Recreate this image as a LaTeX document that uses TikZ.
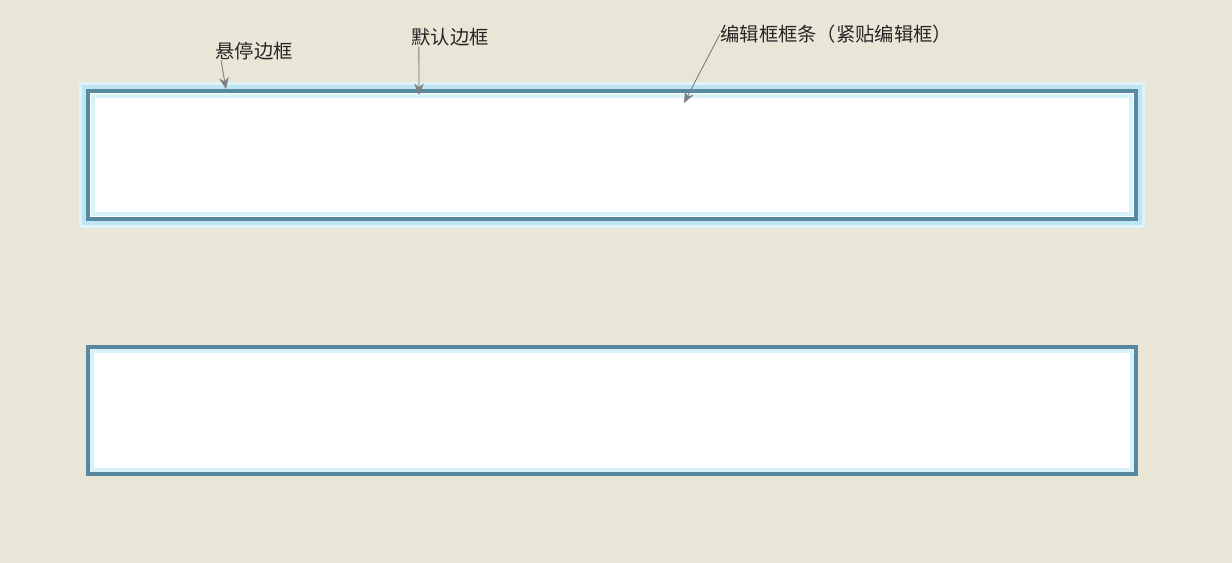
\documentclass[tikz,border=0pt]{standalone}
\usepackage{fontspec}
\newfontfamily\cjk{Noto Sans CJK SC}
\usetikzlibrary{arrows.meta}
\definecolor{bgcol}{RGB}{234,230,215}
\definecolor{glowcol}{RGB}{190,230,242}
\definecolor{edgecol}{RGB}{88,136,160}
\definecolor{innercol}{RGB}{216,242,250}
\definecolor{pointer}{RGB}{128,128,128}
\tikzset{
  lbl/.style={font=\cjk\fontsize{11pt}{13pt}\selectfont, text=black!85, inner sep=0pt, anchor=west},
  tip/.style={draw=pointer, fill=pointer, line width=0.5pt, -{Stealth[length=6.5pt,width=5.5pt]}},
}
\begin{document}
\begin{tikzpicture}[x=0.02cm,y=-0.02cm]
\fill[bgcol] (0,0) rectangle (1232,563);
\useasboundingbox (0,0) rectangle (1232,563);
% hover box (top)
\draw[glowcol!50, line width=9pt] (87,90) rectangle (1137,220);
\draw[glowcol, line width=6pt] (87,90) rectangle (1137,220);
\draw[edgecol, fill=white, line width=2.8pt] (88,91) rectangle (1136,219);
\draw[innercol, line width=2.2pt] (93,96) rectangle (1131,214);
% default box (bottom)
\draw[edgecol, fill=white, line width=2pt] (88,347) rectangle (1136,474);
\draw[innercol, line width=1.8pt] (92,351) rectangle (1132,470);
% labels
\node[lbl] (hover) at (215,51) {悬停边框};
\node[lbl] (normal) at (411,37) {默认边框};
\node[lbl] (editbar) at (720,34) {编辑框框条（紧贴编辑框）};
\coordinate (hoverend) at (226,89);
\coordinate (normalend) at (419,95);
\coordinate (editend) at (684,103);
\draw[tip] ([xshift=3.4pt]hover.south west) -- (hoverend);
\draw[tip] ([xshift=4.5pt]normal.south west) -- (normalend);
\draw[tip] (editbar.west) -- (editend);
\end{tikzpicture}
\end{document}
